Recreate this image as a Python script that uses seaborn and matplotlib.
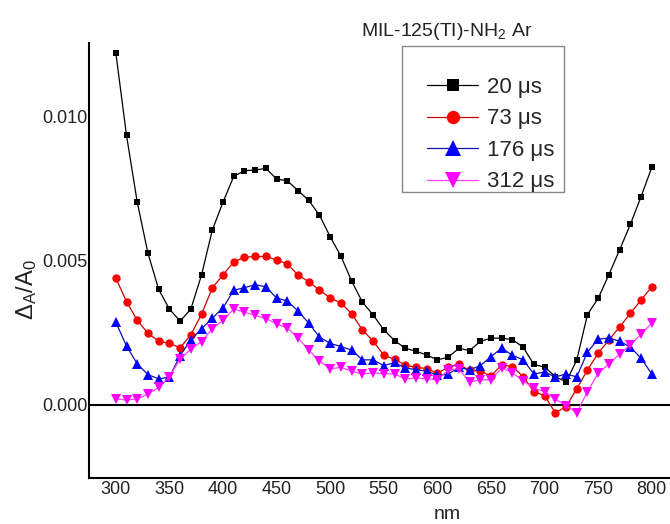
import numpy as np
import pandas as pd
import matplotlib
matplotlib.use("Agg")
import matplotlib.pyplot as plt
from matplotlib.patches import Rectangle
import seaborn as sns

wavelength = list(range(300, 801, 10))

s20 = [0.01220, 0.00933, 0.00702, 0.00525, 0.00400, 0.00332, 0.00290, 0.00332, 0.00450, 0.00605,
       0.00702, 0.00791, 0.00811, 0.00813, 0.00819, 0.00782, 0.00776, 0.00742, 0.00708, 0.00657,
       0.00582, 0.00515, 0.00429, 0.00356, 0.00312, 0.00260, 0.00223, 0.00196, 0.00186, 0.00173,
       0.00156, 0.00165, 0.00196, 0.00188, 0.00220, 0.00231, 0.00231, 0.00226, 0.00200, 0.00140,
       0.00131, 0.00098, 0.00080, 0.00155, 0.00313, 0.00369, 0.00451, 0.00537, 0.00625, 0.00721,
       0.00822]
s73 = [0.00439, 0.00358, 0.00293, 0.00248, 0.00221, 0.00213, 0.00198, 0.00243, 0.00314, 0.00405,
       0.00450, 0.00495, 0.00511, 0.00514, 0.00514, 0.00502, 0.00488, 0.00450, 0.00426, 0.00398,
       0.00370, 0.00353, 0.00316, 0.00260, 0.00221, 0.00172, 0.00158, 0.00138, 0.00130, 0.00126,
       0.00110, 0.00130, 0.00140, 0.00120, 0.00117, 0.00100, 0.00139, 0.00133, 0.00098, 0.00046,
       0.00032, -0.00027, -0.00006, 0.00056, 0.00121, 0.00179, 0.00225, 0.00270, 0.00317, 0.00363,
       0.00409]
s176 = [0.00287, 0.00204, 0.00142, 0.00105, 0.00090, 0.00096, 0.00171, 0.00225, 0.00264, 0.00300,
        0.00336, 0.00397, 0.00406, 0.00416, 0.00409, 0.00370, 0.00360, 0.00325, 0.00283, 0.00235,
        0.00213, 0.00202, 0.00190, 0.00156, 0.00156, 0.00136, 0.00147, 0.00128, 0.00122, 0.00117,
        0.00103, 0.00106, 0.00130, 0.00121, 0.00136, 0.00167, 0.00197, 0.00172, 0.00156, 0.00107,
        0.00114, 0.00097, 0.00107, 0.00097, 0.00183, 0.00228, 0.00231, 0.00221, 0.00200, 0.00162,
        0.00107]
s312 = [0.00021, 0.00017, 0.00021, 0.00037, 0.00061, 0.00097, 0.00159, 0.00193, 0.00219, 0.00264,
        0.00293, 0.00332, 0.00321, 0.00310, 0.00299, 0.00281, 0.00266, 0.00232, 0.00190, 0.00152,
        0.00125, 0.00130, 0.00117, 0.00107, 0.00111, 0.00108, 0.00107, 0.00090, 0.00093, 0.00091,
        0.00087, 0.00121, 0.00125, 0.00079, 0.00087, 0.00087, 0.00128, 0.00112, 0.00083, 0.00058,
        0.00046, 0.00020, -0.00002, -0.00027, 0.00046, 0.00110, 0.00141, 0.00176, 0.00208, 0.00245,
        0.00283]

labels = ["20 μs", "73 μs", "176 μs", "312 μs"]
series = [s20, s73, s176, s312]
marker_colors = ["#000000", "#ff0000", "#0000ff", "#ff00ff"]
line_colors = ["#000000", "#d00000", "#1010b0", "#ff40ff"]
markers = ["s", "o", "^", "v"]
msizes = [5, 6, 7, 7]

x_ticks = [300, 350, 400, 450, 500, 550, 600, 650, 700, 750, 800]
y_ticks = [0.000, 0.005, 0.010]

sns.set_theme(style="white")
plt.rcParams["font.family"] = ["Liberation Sans", "DejaVu Sans"]
plt.rcParams["mathtext.fontset"] = "custom"
plt.rcParams["mathtext.rm"] = "Liberation Sans"
plt.rcParams["mathtext.it"] = "Liberation Sans"
plt.rcParams["mathtext.bf"] = "Liberation Sans:bold"
plt.rcParams["mathtext.sf"] = "Liberation Sans"

fig = plt.figure(figsize=(6.7, 5.24), dpi=100)
W, H = 670, 524
ax = fig.add_axes([89 / W, 1 - 478 / H, (W - 89) / W, (478 - 43) / H])

for lab, s, mc, lc, m, ms in zip(labels, series, marker_colors, line_colors, markers, msizes):
    df = pd.DataFrame({"nm": wavelength, "val": s})
    sns.lineplot(data=df, x="nm", y="val", ax=ax, color=lc, lw=0.9,
                 marker=m, markersize=ms, markerfacecolor=mc, markeredgecolor=mc,
                 markeredgewidth=0, label=lab)

ax.axhline(0, color="black", lw=1.5, zorder=0)

ax.set_xlim(275, 817)
ax.set_ylim(-0.00253, 0.01253)
ax.set_xticks(x_ticks)
ax.set_yticks(y_ticks)
ax.set_yticklabels([f"{v:.3f}" for v in y_ticks])
ax.tick_params(axis="both", length=0, labelsize=13, colors="#222222")
ax.tick_params(axis="x", pad=2)
ax.tick_params(axis="y", pad=1)

for side in ["top", "right"]:
    ax.spines[side].set_visible(False)
for side in ["left", "bottom"]:
    ax.spines[side].set_color("black")
    ax.spines[side].set_linewidth(1.5)

ax.set_xlabel("nm", fontsize=14, color="#222222")
ax.xaxis.set_label_coords((447 - 89) / (W - 89), -0.065)
ax.set_ylabel(r"$\Delta_A/A_0$", fontsize=17, color="#222222")
ax.yaxis.set_label_coords((39 - 89) / (W - 89), 0.432)

fig.text(447 / W, 1 - 31 / H, r"MIL-125(TI)-NH$_2$ Ar", ha="center", va="center",
         fontsize=14, color="#222222")

# legend frame drawn separately to match the reference box
ax.add_patch(Rectangle((402 / W, 1 - 192 / H), (564 - 402) / W, (192 - 46) / H,
                       transform=fig.transFigure, facecolor="white",
                       edgecolor="#888888", lw=1.0, zorder=4, clip_on=False))

leg = ax.legend(loc="upper left", bbox_to_anchor=(427 / W, 1 - 77 / H),
                bbox_transform=fig.transFigure, borderaxespad=0, frameon=False,
                fontsize=16, handlelength=2.3, handletextpad=0.4,
                labelspacing=0.47, borderpad=0.0, markerscale=1.6)
leg.set_zorder(6)

fig.savefig("out.png", dpi=100)
